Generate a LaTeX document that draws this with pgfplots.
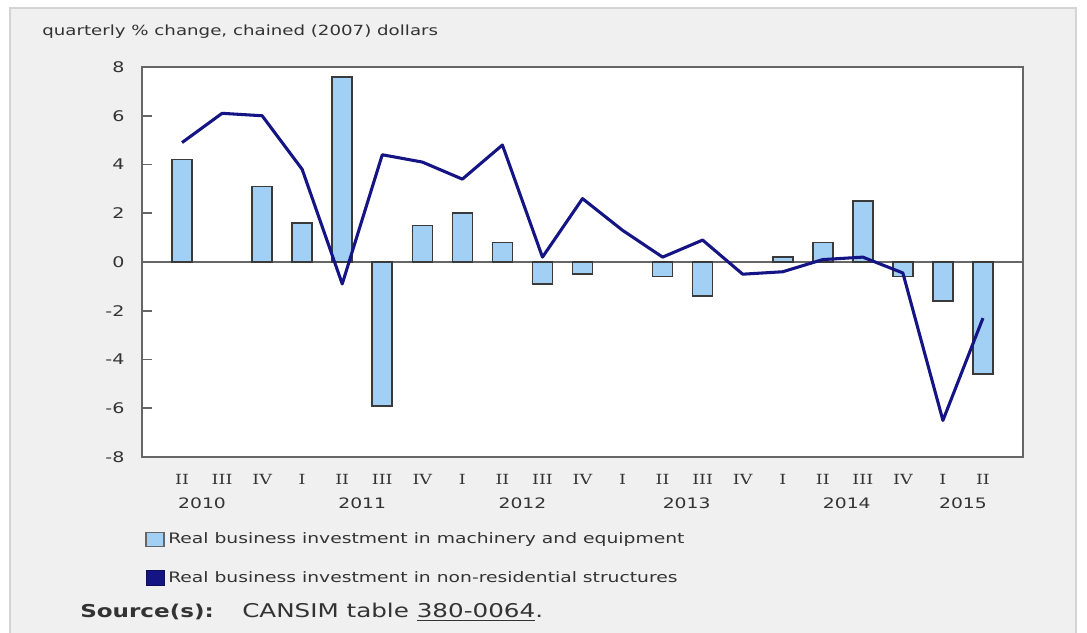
\documentclass[border=0pt]{standalone}
\usepackage{fontspec}
\setmainfont{DejaVu Sans}[FakeStretch=1.3]
\newfontfamily\romfont{DejaVu Serif}[FakeStretch=1.25]
\usepackage{pgfplots}
\pgfplotsset{compat=1.18}

\definecolor{panel}{HTML}{F0F0F0}
\definecolor{panelborder}{HTML}{D4D4D4}
\definecolor{axisgray}{HTML}{666666}
\definecolor{txt}{HTML}{333333}
\definecolor{barblue}{HTML}{A2D0F5}
\definecolor{baredge}{HTML}{3A3A3A}
\definecolor{navy}{HTML}{141485}

\tikzset{year/.style={text=txt, font=\fontsize{10.8}{12}\selectfont, inner sep=0pt, yshift=-35pt}}

% machinery and equipment (quarter index 0 = 2010 Q2)
\pgfplotstableread{
x y
0 4.2
2 3.1
3 1.6
4 7.6
5 -5.9
6 1.5
7 2.0
8 0.8
9 -0.9
10 -0.5
12 -0.6
13 -1.4
15 0.2
16 0.8
17 2.5
18 -0.6
19 -1.6
20 -4.6
}\machinery

% non-residential structures
\pgfplotstableread{
x y
0 4.9
1 6.1
2 6.0
3 3.8
4 -0.9
5 4.4
6 4.1
7 3.4
8 4.8
9 0.2
10 2.6
11 1.3
12 0.2
13 0.9
14 -0.5
15 -0.4
16 0.1
17 0.2
18 -0.45
19 -6.5
20 -2.3
}\structures

\begin{document}
\begin{tikzpicture}
\fill[white] (0,0) rectangle (815.25pt,-474pt);
\useasboundingbox (0,0) rectangle (815.25pt,-474pt);
\filldraw[fill=panel, draw=panelborder, line width=1.2pt] (7.5pt,-6pt) rectangle (807pt,-490pt);

\node[anchor=west, text=txt, font=\fontsize{10.5}{12}\selectfont, inner sep=0pt] at (31.5pt,-24pt) {quarterly \% change, chained (2007) dollars};

\begin{axis}[
 at={(106.5pt,-342.75pt)}, anchor=south west,
 scale only axis,
 width=660.75pt, height=292.5pt,
 xmin=-1, xmax=21,
 ymin=-8, ymax=8,
 clip=false,
 axis background/.style={fill=white},
 axis line style={draw=axisgray, line width=1.5pt},
 ytick={-8,-6,...,8},
 ytick pos=left,
 ytick style={draw=axisgray, line width=1.2pt},
 major tick length=7.5pt,
 tick align=inside,
 xtick={0,...,20},
 xticklabels={II,III,IV,I,II,III,IV,I,II,III,IV,I,II,III,IV,I,II,III,IV,I,II},
 xtick style={draw=none},
 /pgf/number format/assume math mode=true,
 yticklabel style={text=txt, font=\fontsize{11}{12}\selectfont, inner sep=0pt, xshift=-13pt},
 xticklabel style={text=txt, font=\romfont\fontsize{10.5}{12}\selectfont, inner sep=0pt, yshift=-13pt},
]
\draw[axisgray, line width=1.2pt] (axis cs:-1,0) -- (axis cs:21,0);
\addplot[ybar, bar width=15pt, fill=barblue, draw=baredge, line width=1.2pt] table[x=x, y=y] {\machinery};
\addplot[navy, line width=2.3pt, sharp plot, mark=none, line join=round] table[x=x, y=y] {\structures};

\node[year] at (axis cs:0.5,-8) {2010};
\node[year] at (axis cs:4.5,-8) {2011};
\node[year] at (axis cs:8.5,-8) {2012};
\node[year] at (axis cs:12.6,-8) {2013};
\node[year] at (axis cs:16.6,-8) {2014};
\node[year] at (axis cs:19.5,-8) {2015};
\end{axis}

% legend
\filldraw[fill=barblue, draw=axisgray, line width=0.9pt] (109.5pt,-399.5pt) rectangle (123pt,-410pt);
\node[anchor=west, text=txt, font=\fontsize{10.8}{12}\selectfont, inner sep=0pt] at (126pt,-405pt) {Real business investment in machinery and equipment};
\filldraw[fill=navy, draw=navy!70!black, line width=0.6pt] (109.5pt,-428pt) rectangle (123pt,-439pt);
\node[anchor=west, text=txt, font=\fontsize{10.8}{12}\selectfont, inner sep=0pt] at (126pt,-433pt) {Real business investment in non-residential structures};

% source
\node[anchor=west, text=txt, font=\fontsize{13.3}{15}\selectfont\bfseries, inner sep=0pt] at (60pt,-459pt) {Source(s):};
\node[anchor=west, text=txt, font=\fontsize{14.2}{16}\selectfont, inner sep=0pt] at (181.5pt,-459pt) {CANSIM table \underline{380-0064}.};
\end{tikzpicture}
\end{document}
